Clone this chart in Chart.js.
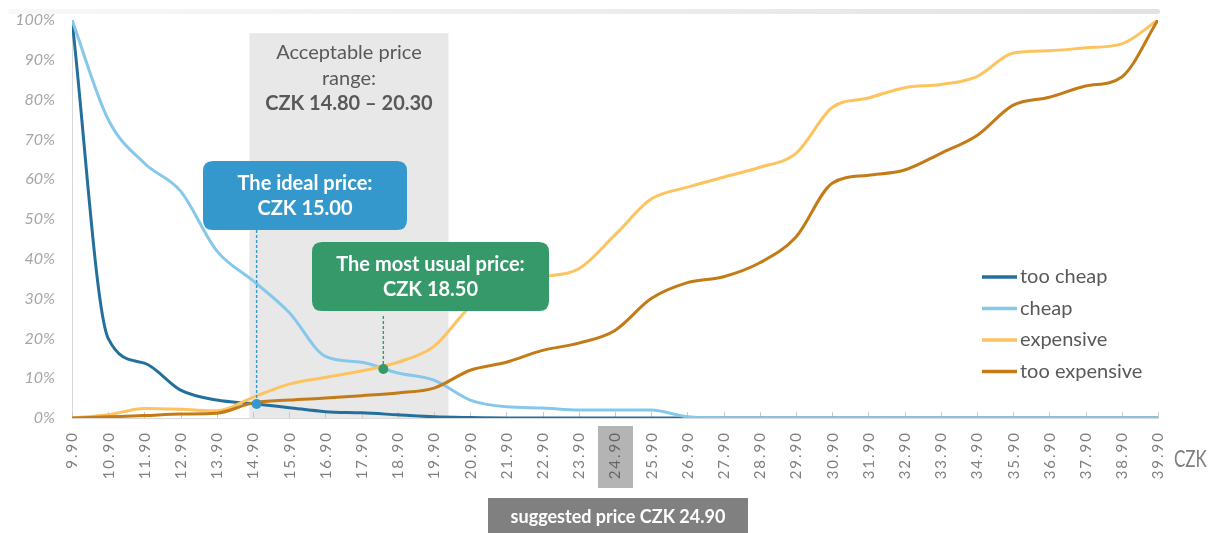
<!DOCTYPE html>
<html><head><meta charset="utf-8">
<script src="https://cdn.jsdelivr.net/npm/chart.js@4"></script>
<style>html,body{margin:0;padding:0;background:#fff}#wrap{width:1219px;height:533px;position:relative}</style>
</head><body><div id="wrap"><canvas id="c"></canvas></div>
<script>
// ---- data ----
const prices = [9.9,10.9,11.9,12.9,13.9,14.9,15.9,16.9,17.9,18.9,19.9,20.9,21.9,22.9,23.9,24.9,25.9,26.9,27.9,28.9,29.9,30.9,31.9,32.9,33.9,34.9,35.9,36.9,37.9,38.9,39.9];
const tooCheap = [100,20,13.8,7,4.5,3.6,2.6,1.6,1.3,0.8,0.3,0.1,0,0,0,0,0,0,0,0,0,0,0,0,0,0,0,0,0,0,0];
const cheap = [100,75,64,57,42,34.5,26.5,15.5,14,11.3,9.5,4.5,2.8,2.5,2,2,2,0.3,0,0,0,0,0,0,0,0,0,0,0,0,0];
const expensive = [0,0.8,2.4,2.2,1.8,5.2,8.5,10.2,11.8,14,18,28,34,35.5,37.5,46,55,58,60.5,63,66.5,78,80.4,83,83.8,85.8,91.7,92.3,93,94,100];
const tooExpensive = [0,0.3,0.6,1,1.2,3.8,4.5,5,5.6,6.3,7.5,12,14,17,18.8,22,30,34,35.5,39,45.5,59,61,62.3,66.5,71,78.6,80.6,83.4,85.7,100];
const seriesLabels = ['too cheap','cheap','expensive','too expensive'];
const yTicks = [0,10,20,30,40,50,60,70,80,90,100];
const acceptableRange = [14.8, 20.3];
const idealPoint = [15.0, 3.5];
const usualPoint = [18.5, 12.3];
const suggestedPrice = 24.9;

// ---- styles ----
const seriesValues = [tooCheap, cheap, expensive, tooExpensive];
const colors = ['#23709d','#86c8ea','#fdc35f','#c27b16'];
const F = 'Lato';
const BLUE = '#3598cc', GREEN = '#35996a';

function roundRect(ctx,x,y,w,h,r){ctx.beginPath();ctx.moveTo(x+r,y);ctx.lineTo(x+w-r,y);ctx.quadraticCurveTo(x+w,y,x+w,y+r);ctx.lineTo(x+w,y+h-r);ctx.quadraticCurveTo(x+w,y+h,x+w-r,y+h);ctx.lineTo(x+r,y+h);ctx.quadraticCurveTo(x,y+h,x,y+h-r);ctx.lineTo(x,y+r);ctx.quadraticCurveTo(x,y,x+r,y);ctx.closePath();}

const overlay = {
  id:'overlay',
  beforeDatasetsDraw(chart){
    const {ctx, scales:{x,y}} = chart;
    ctx.save();
    const g = ctx.createLinearGradient(8,0,1160,0); g.addColorStop(0,'#f8f8f8'); g.addColorStop(1,'#e2e2e2');
    ctx.fillStyle = g; roundRect(ctx,8,9,1152,5,2.5); ctx.fill();
    const x0 = x.getPixelForValue(acceptableRange[0]), x1 = x.getPixelForValue(acceptableRange[1]);
    const yT = y.getPixelForValue(96.7), yB = y.getPixelForValue(0);
    ctx.fillStyle = '#e8e8e8'; ctx.fillRect(x0,yT,x1-x0,yB-yT);
    const cx = (x0+x1)/2;
    ctx.fillStyle = '#595959'; ctx.textAlign='center'; ctx.textBaseline='middle';
    ctx.font = `20px ${F}`;
    ctx.fillText('Acceptable price', cx, 53);
    ctx.fillText('range:', cx, 79);
    ctx.font = `bold 20px ${F}`;
    ctx.fillText(`CZK ${acceptableRange[0].toFixed(2)} – ${acceptableRange[1].toFixed(2)}`, cx, 104);
    ctx.strokeStyle = '#c9c9c9'; ctx.lineWidth = 1;
    prices.forEach(v=>{const px=Math.round(x.getPixelForValue(v))+0.5; ctx.beginPath(); ctx.moveTo(px,yB); ctx.lineTo(px,yB-6); ctx.stroke();});
    ctx.restore();
  },
  afterDatasetsDraw(chart){
    const {ctx, scales:{x,y}} = chart;
    ctx.save();
    function marker(pt, color, box, lines, lineTop){
      const px = x.getPixelForValue(pt[0]), py = y.getPixelForValue(pt[1]);
      ctx.strokeStyle = color; ctx.lineWidth = 1.4; ctx.setLineDash([3,2]);
      ctx.beginPath(); ctx.moveTo(px, lineTop); ctx.lineTo(px, py); ctx.stroke();
      ctx.setLineDash([]);
      ctx.fillStyle = color; ctx.beginPath(); ctx.arc(px, py, 5, 0, Math.PI*2); ctx.fill();
      roundRect(ctx, box[0], box[1], box[2]-box[0], box[3]-box[1], 10); ctx.fill();
      ctx.fillStyle = '#fff'; ctx.font = `bold 20px ${F}`; ctx.textAlign='center'; ctx.textBaseline='middle';
      const cx = (box[0]+box[2])/2;
      ctx.fillText(lines[0], cx, box[1]+23); ctx.fillText(lines[1], cx, box[1]+48);
    }
    marker(idealPoint, BLUE, [203,161,407,230], ['The ideal price:', `CZK ${idealPoint[0].toFixed(2)}`], 230);
    marker(usualPoint, GREEN, [312,242,549,311], ['The most usual price:', `CZK ${usualPoint[0].toFixed(2)}`], 316);
    ctx.restore();
  },
  afterDraw(chart){
    const {ctx, scales:{x,y}} = chart;
    ctx.save();
    const sp = x.getPixelForValue(suggestedPrice);
    ctx.fillStyle = '#b4b4b4'; ctx.fillRect(sp-17, 426, 35, 62);
    ctx.font = `15px ${F}`; ctx.textAlign='right'; ctx.textBaseline='middle';
    try { ctx.letterSpacing = '2px'; } catch(e){}
    prices.forEach(v=>{
      const px = x.getPixelForValue(v);
      ctx.save(); ctx.translate(px+0.5, 433); ctx.rotate(-Math.PI/2);
      ctx.fillStyle = Math.abs(v-suggestedPrice)<1e-6 ? '#666666' : '#7f7f7f';
      ctx.fillText(v.toFixed(2), 2, 0);
      ctx.restore();
    });
    try { ctx.letterSpacing = '0px'; } catch(e){}
    ctx.save(); ctx.translate(1174, 460); ctx.scale(1,1.35);
    ctx.fillStyle = '#7f7f7f'; ctx.font = `17px ${F}`; ctx.textAlign='left'; ctx.textBaseline='middle';
    ctx.fillText('CZK', 0, 0); ctx.restore();
    ctx.fillStyle = '#808080'; ctx.fillRect(sp-127, 498, 260, 40);
    ctx.fillStyle = '#fff'; ctx.font = `bold 18px ${F}`; ctx.textAlign='center'; ctx.textBaseline='middle';
    ctx.fillText(`suggested price CZK ${suggestedPrice.toFixed(2)}`, sp+3, 517);
    ctx.font = `20px ${F}`; ctx.textAlign='left'; ctx.textBaseline='middle';
    seriesLabels.forEach((l,i)=>{
      const ly = 277 + i*31.5;
      ctx.strokeStyle = colors[i]; ctx.lineWidth = 3.5;
      ctx.beginPath(); ctx.moveTo(982, ly); ctx.lineTo(1017, ly); ctx.stroke();
      ctx.fillStyle = '#595959'; ctx.fillText(l, 1020, ly);
    });
    ctx.restore();
  }
};

new Chart(document.getElementById('c'), {
  type:'line',
  data:{datasets: seriesLabels.map((l,i)=>({
    label:l, data: prices.map((p,j)=>({x:p, y:seriesValues[i][j]})),
    borderColor: colors[i], backgroundColor: colors[i], borderWidth:3, pointRadius:0,
    cubicInterpolationMode:'monotone', fill:false, order: 3-i
  }))},
  options:{
    responsive:true, maintainAspectRatio:false, animation:false,
    layout:{autoPadding:false, padding:{top:20,right:61,left:0,bottom:0}},
    plugins:{legend:{display:false}, tooltip:{enabled:false}},
    scales:{
      x:{type:'linear', min:9.9, max:39.9,
         ticks:{display:false}, grid:{display:false, drawTicks:false},
         border:{display:true, color:'#d9d9d9', width:1},
         afterFit: s=>{ s.height = 115; s.paddingLeft = 0; s.paddingRight = 0; s.paddingTop = 0; s.paddingBottom = 0; }},
      y:{min:0, max:100,
         afterBuildTicks: s=>{ s.ticks = yTicks.map(v=>({value:v})); },
         ticks:{callback: v=>v+'%', color:'#a6a6a6', font:{family:F, style:'italic', size:16}, padding:17},
         grid:{display:false, drawTicks:false},
         border:{display:true, color:'#d9d9d9', width:1},
         afterFit: s=>{ s.width = 72; s.paddingTop = 0; s.paddingBottom = 0; s.paddingLeft = 0; s.paddingRight = 0; }}
    }
  },
  plugins:[overlay]
});
</script></body></html>
